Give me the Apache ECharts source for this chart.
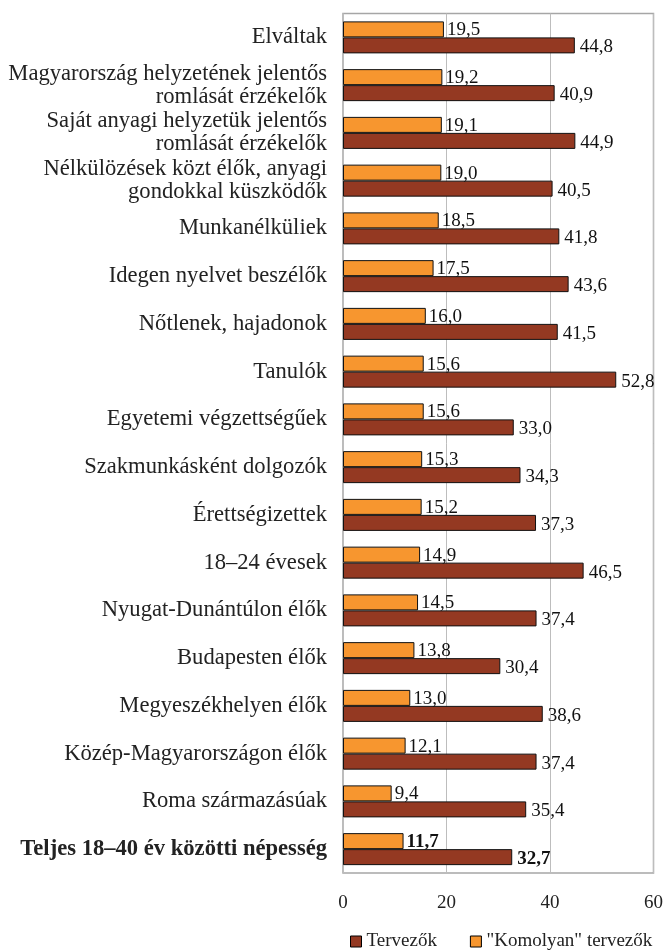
<!DOCTYPE html>
<html>
<head>
<meta charset="utf-8">
<script src="https://cdn.jsdelivr.net/npm/echarts@6/dist/echarts.min.js"></script>
<style>
  html, body { margin: 0; padding: 0; background: #fff; }
  #chart { width: 666px; height: 951px; }
</style>
</head>
<body>
<div id="chart"></div>
<script>
// kategóriák (felülről lefelé)
var categories = [
  'Elváltak',
  'Magyarország helyzetének jelentős\nromlását érzékelők',
  'Saját anyagi helyzetük jelentős\nromlását érzékelők',
  'Nélkülözések közt élők, anyagi\ngondokkal küszködők',
  'Munkanélküliek',
  'Idegen nyelvet beszélők',
  'Nőtlenek, hajadonok',
  'Tanulók',
  'Egyetemi végzettségűek',
  'Szakmunkásként dolgozók',
  'Érettségizettek',
  '18–24 évesek',
  'Nyugat-Dunántúlon élők',
  'Budapesten élők',
  'Megyeszékhelyen élők',
  'Közép-Magyarországon élők',
  'Roma származásúak',
  'Teljes 18–40 év közötti népesség'
];
var komolyan = [19.5, 19.2, 19.1, 19.0, 18.5, 17.5, 16.0, 15.6, 15.6, 15.3, 15.2, 14.9, 14.5, 13.8, 13.0, 12.1, 9.4, 11.7];
var tervezok = [44.8, 40.9, 44.9, 40.5, 41.8, 43.6, 41.5, 52.8, 33.0, 34.3, 37.3, 46.5, 37.4, 30.4, 38.6, 37.4, 35.4, 32.7];
var xTicks = [0, 20, 40, 60];

var FONT = 'Liberation Serif';
var last = categories.length - 1;

function fmt(p) {
  return p.value.toFixed(1).replace('.', ',');
}
// utolsó sor félkövér
function toData(arr) {
  return arr.map(function (v, i) {
    if (i === last) return { value: v, label: { fontWeight: 'bold' } };
    return v;
  });
}

var chart = echarts.init(document.getElementById('chart'));
var option = {
  animation: false,
  textStyle: { fontFamily: FONT },
  grid: {
    left: 343,
    right: 10,
    top: 13.5,
    bottom: 78,
    show: true,
    borderColor: '#a6a6a6',
    borderWidth: 1.5
  },
  legend: {
    data: ['Tervezők', '"Komolyan" tervezők'],
    left: 350,
    top: 932,
    padding: 0,
    itemWidth: 11,
    itemHeight: 11,
    itemGap: 33,
    icon: 'rect',
    itemStyle: { borderColor: '#000', borderWidth: 1 },
    textStyle: { fontFamily: FONT, fontSize: 19, color: '#222' }
  },
  xAxis: {
    type: 'value',
    min: xTicks[0],
    max: xTicks[xTicks.length - 1],
    interval: 20,
    axisLine: { show: false },
    axisTick: { show: false },
    splitLine: { lineStyle: { color: '#bdbdbd', width: 1 } },
    axisLabel: { fontFamily: FONT, fontSize: 19, color: '#222', margin: 21 }
  },
  yAxis: {
    type: 'category',
    inverse: true,
    data: categories,
    axisLine: { show: false },
    axisTick: { show: false },
    axisLabel: {
      fontFamily: FONT,
      fontSize: 22.6,
      lineHeight: 23,
      color: '#222',
      margin: 16,
      formatter: function (val, idx) {
        if (idx === last) return '{b|' + val + '}';
        return val;
      },
      rich: {
        b: { fontFamily: FONT, fontSize: 22.6, fontWeight: 'bold', color: '#222' }
      }
    }
  },
  series: [
    {
      name: '"Komolyan" tervezők',
      type: 'bar',
      barWidth: 16,
      barGap: '0%',
      data: toData(komolyan),
      itemStyle: { color: '#F7962F', borderColor: '#111', borderWidth: 1 },
      label: {
        show: true,
        position: 'right',
        distance: 3,
        offset: [0, 1],
        fontFamily: FONT,
        fontSize: 19,
        color: '#111',
        formatter: fmt
      }
    },
    {
      name: 'Tervezők',
      type: 'bar',
      barWidth: 16,
      barGap: '0%',
      data: toData(tervezok),
      itemStyle: { color: '#943922', borderColor: '#111', borderWidth: 1 },
      label: {
        show: true,
        position: 'right',
        distance: 5,
        offset: [0, 2],
        fontFamily: FONT,
        fontSize: 19,
        color: '#111',
        formatter: fmt
      }
    }
  ]
};
chart.setOption(option);
</script>
</body>
</html>
